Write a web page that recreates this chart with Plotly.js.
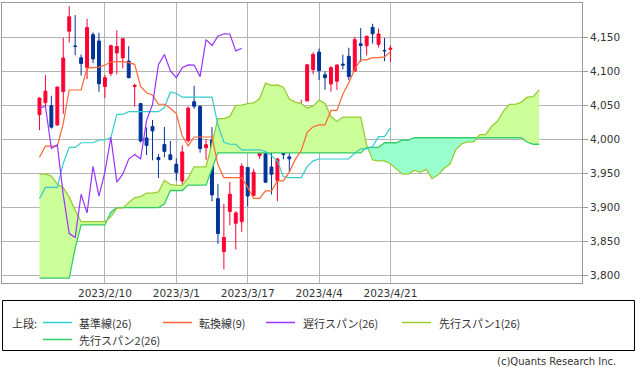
<!DOCTYPE html>
<html><head><meta charset="utf-8">
<script src="https://cdn.plot.ly/plotly-3.0.1.min.js"></script>
<style>html,body{margin:0;padding:0;background:#fff;}#chart{width:636px;height:367px;}</style>
</head><body><div id="chart"></div>
<script>
// ---- data (S&P500 daily, 2023/1/26 - 2023/4/21) ----
const tickPos = [11, 23, 35, 47, 59];
const tickLabels = ['2023/2/10', '2023/3/1', '2023/3/17', '2023/4/4', '2023/4/21'];
const yTicks = [3800, 3850, 3900, 3950, 4000, 4050, 4100, 4150];

const openP = [4036.08,4053.72,4049.27,4020.85,4070.07,4158.68,4136.69,4119.57,4105.35,4153.47,4144.25,4077.39,4096.62,4126.70,4119.50,4114.75,4077.39,4052.35,4001.83,4018.60,3973.24,3992.36,3977.19,3963.34,3938.68,3998.02,4055.15,4048.26,3987.55,3998.66,3912.77,3835.12,3894.01,3876.74,3878.93,3958.69,3917.47,3975.89,4002.04,3959.21,3939.21,3982.93,3974.13,3999.53,4046.74,4056.18,4102.20,4128.03,4094.50,4081.15,4085.20,4110.29,4121.72,4100.04,4140.11,4137.17,4164.26,4139.33,4130.48,4132.14];
const highP = [4061.57,4094.21,4063.85,4077.16,4148.95,4195.44,4182.36,4124.63,4176.54,4156.85,4156.23,4094.36,4138.90,4159.77,4148.11,4136.54,4081.51,4052.35,4017.37,4028.30,3978.25,4018.05,3997.50,3971.73,3990.84,4048.29,4078.49,4050.00,4000.41,4017.81,3934.05,3905.05,3937.29,3894.26,3964.46,3958.91,3956.62,4009.08,4039.49,4007.66,3972.74,4003.83,3979.20,4030.59,4057.85,4110.75,4127.66,4133.13,4099.69,4107.32,4109.50,4124.26,4134.37,4150.26,4163.19,4151.72,4169.48,4162.57,4148.57,4138.02];
const lowP = [4013.29,4048.70,4015.55,4020.44,4037.20,4141.88,4123.36,4093.38,4088.39,4111.67,4069.67,4060.79,4092.67,4095.01,4103.98,4089.49,4047.95,3995.19,3976.90,3969.19,3943.08,3973.55,3968.98,3939.05,3928.16,3995.17,4044.61,3980.31,3969.76,3908.70,3846.32,3808.86,3873.63,3838.24,3864.11,3901.27,3916.89,3971.19,3936.17,3919.05,3909.16,3970.49,3951.53,3999.53,4032.10,4056.18,4095.31,4086.87,4072.56,4069.84,4072.55,4102.61,4086.94,4099.40,4113.20,4123.18,4140.36,4134.49,4114.57,4113.86];
const closeP = [4060.43,4070.56,4017.77,4076.60,4119.21,4179.76,4136.48,4111.08,4164.00,4117.86,4081.50,4090.46,4137.29,4136.13,4147.60,4090.41,4079.09,3997.34,3991.05,4012.32,3970.04,3982.24,3970.15,3951.39,3981.35,4045.64,4048.42,3986.37,3992.01,3918.32,3861.59,3855.76,3919.29,3891.93,3960.28,3916.64,3951.57,4002.87,3936.97,3948.72,3970.99,3977.53,3971.27,4027.81,4050.83,4109.31,4124.51,4100.60,4090.38,4105.02,4109.11,4108.94,4091.95,4146.22,4137.64,4151.32,4154.87,4154.52,4129.79,4133.52];

// 基準線(26)
const kijun = [3913.0,3929.4,3929.4,3929.4,3964.9,3988.1,3988.1,3994.9,3994.9,3994.9,3998.9,3998.9,4002.5,4036.4,4036.4,4040.5,4040.5,4040.5,4040.5,4040.5,4040.5,4046.6,4069.3,4067.2,4061.8,4061.8,4061.8,4061.8,4061.8,4061.8,4020.9,3995.6,3992.7,3992.7,3984.3,3984.3,3984.3,3984.3,3982.0,3976.0,3968.0,3945.2,3943.7,3943.7,3943.7,3959.8,3968.3,3971.0,3971.0,3971.0,3971.0,3971.0,3971.0,3979.6,3986.0,3986.0,3989.2,4003.9,4003.9,4016.8];
// 転換線(9)
const tenkan = [3973.6,3989.9,3989.9,3989.9,4023.4,4072.3,4072.3,4072.3,4104.4,4105.5,4106.0,4109.0,4113.0,4114.0,4114.0,4112.5,4110.0,4077.5,4068.3,4064.5,4051.4,4051.4,4045.6,4037.8,4004.8,3990.3,4003.3,4003.3,4003.3,4003.3,3962.4,3943.7,3943.7,3943.7,3943.7,3929.4,3913.3,3913.3,3924.2,3924.2,3938.9,3938.9,3951.8,3970.4,3983.5,4010.0,4018.4,4021.1,4021.1,4042.3,4042.3,4066.3,4082.6,4103.2,4116.5,4116.5,4119.7,4119.7,4121.0,4128.2];
// 遅行スパン(26)
const chikou = [4045.64,4048.42,3986.37,3992.01,3918.32,3861.59,3855.76,3919.29,3891.93,3960.28,3916.64,3951.57,4002.87,3936.97,3948.72,3970.99,3977.53,3971.27,4027.81,4050.83,4109.31,4124.51,4100.60,4090.38,4105.02,4109.11,4108.94,4091.95,4146.22,4137.64,4151.32,4154.87,4154.52,4129.79,4133.52];
// 先行スパン1(26)
const spanA = [3948.7,3948.7,3946.0,3934.0,3929.0,3915.0,3896.0,3879.0,3879.0,3879.0,3879.0,3879.0,3886.0,3899.0,3899.2,3907.5,3914.4,3915.9,3920.8,3920.8,3922.6,3939.5,3933.7,3932.2,3932.2,
3943.3,3959.6,3959.6,3959.6,3994.2,4030.2,4030.2,4033.6,4049.7,4050.2,4052.2,4053.4,4059.4,4082.3,4079.0,4079.6,4076.4,4059.0,4054.4,4052.5,4046.0,4049.0,4057.5,4052.5,4033.3,4026.1,4032.6,4032.6,4032.6,4032.6,3991.7,3969.7,3968.2,3968.2,3964.0,3956.9,3948.8,3948.8,3954.3,3951.4,3955.8,3942.1,3947.8,3957.1,3963.6,3984.9,3993.4,3996.1,3996.1,4006.7,4006.7,4018.7,4026.8,4041.4,4051.3,4051.3,4054.5,4061.8,4062.5,4072.5];
// 先行スパン2(26)
const spanB = [3796.3,3796.3,3796.3,3796.3,3796.3,3796.3,3840.0,3874.2,3874.2,3874.2,3874.2,3874.2,3893.0,3899.6,3899.6,3899.6,3899.6,3899.6,3899.6,3899.6,3899.6,3904.9,3924.8,3924.8,3924.8,
3932.7,3932.7,3932.7,3932.7,3956.7,3980.0,3980.0,3980.0,3980.0,3980.0,3980.0,3980.0,3980.0,3980.0,3980.0,3980.0,3980.0,3980.0,3980.0,3980.0,3980.0,3980.0,3980.0,3980.0,3980.0,3980.0,3980.0,3980.0,3980.0,3980.0,3988.1,3988.1,3988.1,3994.9,3994.9,3994.9,3998.9,3998.9,4002.2,4002.2,4002.2,4002.2,4002.2,4002.2,4002.2,4002.2,4002.2,4002.2,4002.2,4002.2,4002.2,4002.2,4002.2,4002.2,4002.2,4002.2,4002.2,3995.6,3992.7,3992.7];

const legendLabels = ['基準線(26)', '転換線(9)', '遅行スパン(26)', '先行スパン1(26)', '先行スパン2(26)'];

// ---- styling ----
const C = {
  up: '#ff0033', down: '#003399',
  kijun: '#33cccc', tenkan: '#ff6633', chikou: '#9933ff',
  spanA: '#99cc33', spanB: '#33cc66',
  fillA: '#ccff99', fillB: '#99ffcc',
  grid: '#b4b4b4', axis: '#999999', text: '#333333'
};

const idx = n => Array.from({length: n}, (_, i) => i);

// cloud with crossing points inserted
function buildCloud(a, b) {
  const X = [], A = [], B = [];
  for (let j = 0; j < a.length; j++) {
    X.push(j); A.push(a[j]); B.push(b[j]);
    if (j < a.length - 1) {
      const d0 = a[j] - b[j], d1 = a[j + 1] - b[j + 1];
      if (d0 * d1 < 0) {
        const t = d0 / (d0 - d1);
        const v = a[j] + t * (a[j + 1] - a[j]);
        X.push(j + t); A.push(v); B.push(v);
      }
    }
  }
  const M = A.map((v, i) => Math.max(v, B[i]));
  return {X, A, B, M};
}
const cl = buildCloud(spanA, spanB);
const hidden = {width: 0};

const traces = [
  {x: cl.X, y: cl.B, type: 'scatter', mode: 'lines', line: hidden, hoverinfo: 'skip'},
  {x: cl.X, y: cl.M, type: 'scatter', mode: 'lines', line: hidden, fill: 'tonexty', fillcolor: C.fillA, hoverinfo: 'skip'},
  {x: cl.X, y: cl.A, type: 'scatter', mode: 'lines', line: hidden, hoverinfo: 'skip'},
  {x: cl.X, y: cl.M, type: 'scatter', mode: 'lines', line: hidden, fill: 'tonexty', fillcolor: C.fillB, hoverinfo: 'skip'},
  {x: idx(spanB.length), y: spanB, type: 'scatter', mode: 'lines', line: {color: C.spanB, width: 1.3}},
  {x: idx(spanA.length), y: spanA, type: 'scatter', mode: 'lines', line: {color: C.spanA, width: 1.3}},
  {x: idx(kijun.length), y: kijun, type: 'scatter', mode: 'lines', line: {color: C.kijun, width: 1.2}},
  {x: idx(tenkan.length), y: tenkan, type: 'scatter', mode: 'lines', line: {color: C.tenkan, width: 1.2}},
  {x: idx(chikou.length), y: chikou, type: 'scatter', mode: 'lines', line: {color: C.chikou, width: 1.2}},
  {x: idx(closeP.length), open: openP, high: highP, low: lowP, close: closeP, type: 'candlestick',
   increasing: {line: {color: C.up, width: 1}, fillcolor: C.up},
   decreasing: {line: {color: C.down, width: 1}, fillcolor: C.down},
   whiskerwidth: 0}
];

// pixel -> paper helpers for the legend block
const PL = 2, PT = 3, PW = 580, PH = 280;
const px = p => (p - PL) / PW;
const py = p => (PT + PH - p) / PH;

const legendItems = [
  {label: legendLabels[0], color: C.kijun, lx: 43, tx: 77, y: 322.5},
  {label: legendLabels[1], color: C.tenkan, lx: 163, tx: 197, y: 322.5},
  {label: legendLabels[2], color: C.chikou, lx: 266, tx: 301, y: 322.5},
  {label: legendLabels[3], color: C.spanA, lx: 402, tx: 437, y: 322.5},
  {label: legendLabels[4], color: C.spanB, lx: 43, tx: 77, y: 339.5}
];
const fontJ = {family: '"Noto Sans CJK JP", "Noto Sans", sans-serif', size: 11, color: C.text};

const shapes = [
  {type: 'rect', xref: 'paper', yref: 'paper', x0: px(2.5), x1: px(634.5), y0: py(350.5), y1: py(300.5),
   line: {color: '#000', width: 1}, fillcolor: 'rgba(0,0,0,0)'}
];
const annotations = [
  {xref: 'paper', yref: 'paper', x: px(10), y: py(322.5), xanchor: 'left', yanchor: 'middle', text: '上段:', showarrow: false, font: fontJ},
  {xref: 'paper', yref: 'paper', x: px(618), y: py(362), xanchor: 'right', yanchor: 'middle', text: '(c)Quants Research Inc.', showarrow: false,
   font: {family: '"DejaVu Sans", sans-serif', size: 10, color: C.text}}
];
legendItems.forEach(it => {
  shapes.push({type: 'line', xref: 'paper', yref: 'paper', x0: px(it.lx), x1: px(it.lx + 29), y0: py(it.y), y1: py(it.y),
    line: {color: it.color, width: 1.5}});
  annotations.push({xref: 'paper', yref: 'paper', x: px(it.tx), y: py(it.y), xanchor: 'left', yanchor: 'middle',
    text: it.label, showarrow: false, font: fontJ});
});

const layout = {
  width: 636, height: 367,
  margin: {l: PL, r: 636 - PL - PW, t: PT, b: 367 - PT - PH, pad: 0},
  paper_bgcolor: '#fff', plot_bgcolor: '#fff',
  showlegend: false,
  xaxis: {
    type: 'linear', range: [-6.3, 91.2], tickmode: 'array', tickvals: tickPos, ticktext: tickLabels,
    showgrid: true, gridcolor: C.grid, gridwidth: 1, zeroline: false,
    showline: true, mirror: true, linecolor: C.axis, linewidth: 1, ticks: '',
    tickfont: {family: '"DejaVu Sans", sans-serif', size: 10.5, color: C.text},
    rangeslider: {visible: false}, fixedrange: true
  },
  yaxis: {
    range: [3789, 4200], side: 'right', tickmode: 'array', tickvals: yTicks, tickformat: ',d',
    showgrid: true, gridcolor: C.grid, gridwidth: 1, zeroline: false,
    showline: true, mirror: true, linecolor: C.axis, linewidth: 1,
    ticks: 'outside', ticklen: 5, tickcolor: C.axis,
    tickfont: {family: '"DejaVu Sans", sans-serif', size: 10.5, color: C.text}, fixedrange: true
  },
  shapes: shapes,
  annotations: annotations
};

Plotly.newPlot('chart', traces, layout, {staticPlot: true, displayModeBar: false});
</script>
</body></html>
